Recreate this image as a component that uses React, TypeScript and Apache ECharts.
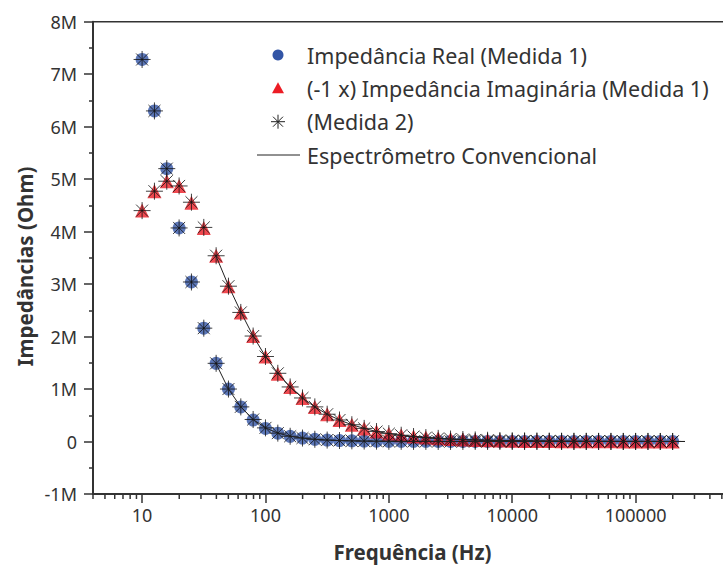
import React, { useEffect, useRef } from "react";
import * as echarts from "echarts";

// Frequências medidas (Hz), 10 pontos por década
const freqs = [
  10, 12.59, 15.85, 19.95, 25.12, 31.62, 39.81, 50.12, 63.1, 79.43,
  100, 125.9, 158.5, 199.5, 251.2, 316.2, 398.1, 501.2, 631, 794.3,
  1000, 1259, 1585, 1995, 2512, 3162, 3981, 5012, 6310, 7943,
  10000, 12589, 15849, 19953, 25119, 31623, 39811, 50119, 63096, 79433,
  100000, 125893, 158489, 199526,
];

// Impedâncias em MΩ
const realM1 = [
  7.28, 6.3, 5.2, 4.07, 3.04, 2.16, 1.49, 1.0, 0.66, 0.41,
  0.25, 0.16, 0.1, 0.065, 0.042, 0.028, 0.019, 0.013, 0.009, 0.007,
  0.005, 0.004, 0.003, 0.003, 0.002, 0.002, 0.002, 0.002, 0.001, 0.001,
  0.001, 0.001, 0.001, 0.001, 0.001, 0.001, 0.001, 0.001, 0.001, 0.001,
  0.001, 0.001, 0.001, 0.001,
];
const imagM1 = [
  4.4, 4.77, 4.96, 4.87, 4.55, 4.07, 3.54, 2.96, 2.46, 2.01,
  1.62, 1.29, 1.04, 0.83, 0.66, 0.52, 0.41, 0.32, 0.25, 0.19,
  0.15, 0.12, 0.095, 0.075, 0.06, 0.048, 0.038, 0.03, 0.024, 0.019,
  0.015, 0.012, 0.01, 0.008, 0.006, 0.005, 0.004, 0.003, 0.003, 0.002,
  0.002, 0.002, 0.001, 0.001,
];
const realM2 = [
  7.28, 6.3, 5.2, 4.07, 3.04, 2.16, 1.49, 1.0, 0.66, 0.42,
  0.26, 0.16, 0.1, 0.066, 0.043, 0.028, 0.019, 0.013, 0.009, 0.007,
  0.005, 0.004, 0.003, 0.003, 0.002, 0.002, 0.002, 0.002, 0.001, 0.001,
  0.001, 0.001, 0.001, 0.001, 0.001, 0.001, 0.001, 0.001, 0.001, 0.001,
  0.001, 0.001, 0.001, 0.001,
];
const imagM2 = [
  4.4, 4.77, 4.96, 4.87, 4.56, 4.08, 3.54, 2.96, 2.46, 2.01,
  1.62, 1.3, 1.04, 0.83, 0.66, 0.52, 0.41, 0.32, 0.25, 0.19,
  0.15, 0.12, 0.095, 0.075, 0.06, 0.048, 0.038, 0.03, 0.024, 0.019,
  0.015, 0.012, 0.01, 0.008, 0.006, 0.005, 0.004, 0.003, 0.003, 0.002,
  0.002, 0.002, 0.001, 0.001,
];

// Espectrômetro convencional
const convFreqs = [
  39.81, 50.12, 63.1, 79.43, 100, 125.9, 158.5, 199.5, 251.2, 316.2,
  398.1, 501.2, 631, 794.3, 1000, 1259, 1585, 1995, 2512, 3162,
  3981, 5012, 6310, 7943, 10000, 12589, 15849, 19953, 25119, 31623,
  39811, 50119, 63096, 79433, 100000, 125893, 158489, 199526, 251189,
];
const convReal = [
  1.48, 1.0, 0.66, 0.42, 0.26, 0.16, 0.1, 0.065, 0.042, 0.028,
  0.018, 0.012, 0.008, 0.006, 0.004, 0.003, 0.002, 0.002, 0.001, 0.001,
  0.001, 0.001, 0.001, 0.001, 0.001, 0.001, 0.001, 0.001, 0.001, 0.001,
  0.001, 0.001, 0.001, 0.001, 0.001, 0.001, 0.001, 0.001, 0.001,
];
const convImag = [
  3.53, 2.97, 2.47, 2.01, 1.62, 1.3, 1.04, 0.83, 0.66, 0.52,
  0.41, 0.32, 0.25, 0.19, 0.15, 0.12, 0.095, 0.075, 0.06, 0.047,
  0.037, 0.03, 0.024, 0.019, 0.015, 0.012, 0.009, 0.007, 0.006, 0.005,
  0.004, 0.003, 0.002, 0.002, 0.002, 0.001, 0.001, 0.001, 0.001,
];

const legendLabels = [
  "Impedância Real (Medida 1)",
  "(-1 x) Impedância Imaginária (Medida 1)",
  "(Medida 2)",
  "Espectrômetro Convencional",
];

const BLUE = "#3355a6";
const RED = "#ec1c24";
const INK = "#333333";
const FONT = "'Noto Sans', sans-serif";
const ASTERISK =
  "path://M8,0L8,16M0,8L16,8M2.35,2.35L13.65,13.65M2.35,13.65L13.65,2.35";

const zip = (xs: number[], ys: number[]) => xs.map((x, i) => [x, ys[i]]);

// minor ticks of the log axis: 2..9 × 10^n
const minorTickValues: number[][] = [];
for (let e = 0; e <= 5; e++) {
  for (let m = 2; m <= 9; m++) {
    const v = m * Math.pow(10, e);
    if (v >= 4 && v <= 1e6) minorTickValues.push([v, -1]);
  }
}

export default function App() {
  const ref = useRef<HTMLDivElement>(null);

  useEffect(() => {
    if (!ref.current) return;
    const chart = echarts.init(ref.current, null, { renderer: "svg" });

    const legendRows = [55, 88.3, 121.7, 155];
    const lx = 278;

    chart.setOption({
      animation: false,
      backgroundColor: "#fff",
      textStyle: { fontFamily: FONT },
      grid: {
        left: 93,
        top: 21.7,
        right: 41,
        bottom: 71,
        show: true,
        borderColor: INK,
        borderWidth: 1.5,
        backgroundColor: "transparent",
      },
      xAxis: {
        type: "log",
        logBase: 10,
        min: 4,
        max: 1e6,
        axisLine: { onZero: false, lineStyle: { color: INK, width: 2 } },
        axisTick: { show: true, length: 9, inside: false, lineStyle: { color: INK, width: 1.5 } },
        splitLine: { show: false },
        axisLabel: {
          color: INK,
          fontSize: 18,
          fontFamily: FONT,
          margin: 12,
          showMinLabel: false,
          showMaxLabel: false,
          formatter: (v: number) => {
            const l = Math.log10(v);
            if (Math.abs(l - Math.round(l)) > 1e-6) return "";
            const r = Math.round(v);
            return r >= 10 && r <= 100000 ? String(r) : "";
          },
        },
      },
      yAxis: {
        type: "value",
        min: -1,
        max: 8,
        interval: 1,
        axisLine: { show: true, onZero: false, lineStyle: { color: INK, width: 2 } },
        axisTick: { show: true, length: 9, inside: false, lineStyle: { color: INK, width: 1.5 } },
        minorTick: { show: true, splitNumber: 2, length: 4, lineStyle: { color: INK, width: 1.5 } },
        splitLine: { show: false },
        axisLabel: {
          color: INK,
          fontSize: 18,
          fontFamily: FONT,
          margin: 16,
          formatter: (v: number) => (v === 0 ? "0" : `${v}M`),
        },
      },
      series: [
        {
          type: "custom",
          silent: true,
          clip: false,
          data: minorTickValues,
          encode: { x: 0, y: 1 },
          renderItem: (_p: any, api: any) => {
            const pt = api.coord([api.value(0), -1]);
            return {
              type: "line",
              shape: { x1: pt[0], y1: pt[1], x2: pt[0], y2: pt[1] + 5 },
              style: { stroke: INK, lineWidth: 1.5 },
            };
          },
          z: 1,
        },
        {
          name: "Impedância Real (Medida 1)",
          type: "scatter",
          symbol: "circle",
          symbolSize: 13,
          itemStyle: { color: BLUE },
          data: zip(freqs, realM1),
          z: 2,
        },
        {
          name: "(-1 x) Impedância Imaginária (Medida 1)",
          type: "scatter",
          symbol: "triangle",
          symbolSize: 14,
          itemStyle: { color: RED },
          data: zip(freqs, imagM1),
          z: 2,
        },
        {
          name: "(Medida 2)",
          type: "scatter",
          symbol: ASTERISK,
          symbolSize: 17,
          itemStyle: { color: "transparent", borderColor: "#111", borderWidth: 1 },
          data: zip(freqs, realM2),
          z: 3,
        },
        {
          name: "(Medida 2)",
          type: "scatter",
          symbol: ASTERISK,
          symbolSize: 17,
          itemStyle: { color: "transparent", borderColor: "#111", borderWidth: 1 },
          data: zip(freqs, imagM2),
          z: 3,
        },
        {
          name: "Espectrômetro Convencional",
          type: "line",
          showSymbol: false,
          symbol: "none",
          lineStyle: { color: "#222", width: 1 },
          data: zip(convFreqs, convReal),
          z: 4,
        },
        {
          name: "Espectrômetro Convencional",
          type: "line",
          showSymbol: false,
          symbol: "none",
          lineStyle: { color: "#222", width: 1 },
          data: zip(convFreqs, convImag),
          z: 4,
        },
      ],
      graphic: [
        {
          type: "text",
          x: 412.5,
          y: 552,
          style: {
            text: "Frequência (Hz)",
            fontSize: 20.5,
            fontWeight: "bold",
            fontFamily: FONT,
            fill: INK,
            align: "center",
            verticalAlign: "middle",
          },
        },
        {
          type: "text",
          x: 25,
          y: 266.5,
          rotation: Math.PI / 2,
          style: {
            text: "Impedâncias (Ohm)",
            fontSize: 20.5,
            fontWeight: "bold",
            fontFamily: FONT,
            fill: INK,
            align: "center",
            verticalAlign: "middle",
          },
        },
        // legend
        { type: "circle", shape: { cx: lx, cy: legendRows[0], r: 5.5 }, style: { fill: BLUE } },
        {
          type: "polygon",
          shape: {
            points: [
              [lx - 6, legendRows[1] + 5],
              [lx + 6, legendRows[1] + 5],
              [lx, legendRows[1] - 6],
            ],
          },
          style: { fill: RED },
        },
        ...[
          [0, -7, 0, 7],
          [-7, 0, 7, 0],
          [-5, -5, 5, 5],
          [-5, 5, 5, -5],
        ].map((d) => ({
          type: "line",
          shape: { x1: lx + d[0], y1: legendRows[2] + d[1], x2: lx + d[2], y2: legendRows[2] + d[3] },
          style: { stroke: "#222", lineWidth: 1 },
        })),
        {
          type: "line",
          shape: { x1: 257, y1: legendRows[3], x2: 300, y2: legendRows[3] },
          style: { stroke: "#222", lineWidth: 1 },
        },
        ...legendLabels.map((t, i) => ({
          type: "text",
          x: 307,
          y: legendRows[i],
          style: {
            text: t,
            fontSize: 21.5,
            fontFamily: FONT,
            fill: INK,
            verticalAlign: "middle",
          },
        })),
      ],
    });

    return () => chart.dispose();
  }, []);

  return (
    <div
      style={{
        position: "fixed",
        left: 0,
        top: 0,
        width: 723,
        height: 565,
        overflow: "hidden",
        background: "#fff",
      }}
    >
      <div ref={ref} style={{ width: 800, height: 565 }} />
    </div>
  );
}
